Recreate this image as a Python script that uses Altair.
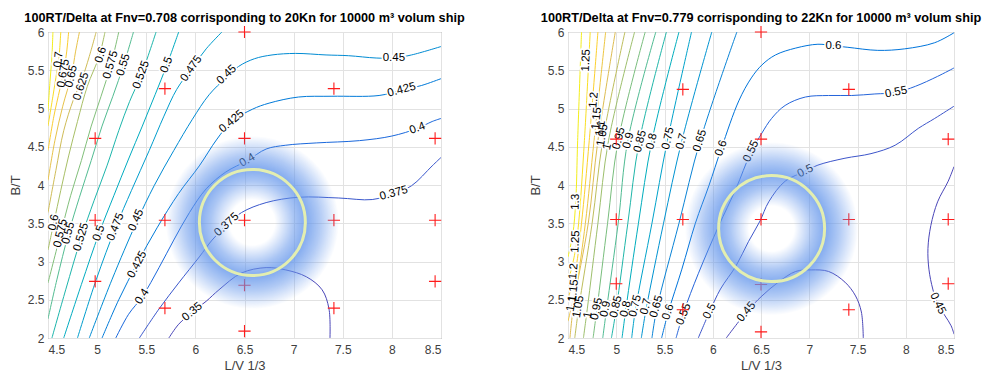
import altair as alt
import pandas as pd

FONT = "Liberation Sans"

TITLE_LEFT = "100RT/Delta at Fnv=0.708 corrisponding to 20Kn for 10000 m³ volum ship"
TITLE_RIGHT = "100RT/Delta at Fnv=0.779 corrisponding to 22Kn for 10000 m³ volum ship"
X_TITLE = "L/V 1/3"
Y_TITLE = "B/T"
X_TICKS = [4.5, 5, 5.5, 6, 6.5, 7, 7.5, 8, 8.5]
Y_TICKS = [2, 2.5, 3, 3.5, 4, 4.5, 5, 5.5, 6]

# design points (red +)
PTS_LEFT_X = [6.5, 5.69, 7.41, 4.98, 6.5, 8.44, 4.98, 5.69, 6.5, 7.41, 8.44, 4.98, 6.5, 8.44, 5.69, 7.41, 6.5]
PTS_LEFT_Y = [6.0, 5.26, 5.26, 4.61, 4.61, 4.61, 3.54, 3.54, 3.54, 3.54, 3.54, 2.74, 2.69, 2.74, 2.39, 2.39, 2.09]
PTS_RIGHT_X = [6.5, 5.69, 7.41, 5.0, 6.5, 8.44, 5.0, 5.69, 6.5, 7.41, 8.44, 5.0, 6.5, 8.44, 5.69, 7.41, 6.5]
PTS_RIGHT_Y = [6.0, 5.25, 5.25, 4.6, 4.6, 4.6, 3.55, 3.55, 3.55, 3.55, 3.55, 2.71, 2.70, 2.71, 2.37, 2.37, 2.08]

# optimum (circle centre)
OPT_LEFT = [6.58, 3.51]
OPT_RIGHT = [6.61, 3.43]

# ---------------- left panel contour lines (x, y) ----------------
L_0350 = [(5.73, 2.0), (5.83, 2.18), (5.97, 2.34), (6.11, 2.48), (6.24, 2.63), (6.47, 2.85), (6.72, 2.92),
          (6.92, 2.89), (7.13, 2.80), (7.29, 2.63), (7.36, 2.38), (7.37, 2.0)]
L_0375 = [(5.43, 2.0), (5.63, 2.38), (5.83, 2.72), (6.04, 3.06), (6.17, 3.28), (6.32, 3.48), (6.47, 3.64),
          (6.72, 3.77), (7.05, 3.84), (7.46, 3.83), (7.80, 3.81), (8.02, 3.89), (8.20, 3.99), (8.41, 4.25), (8.5, 4.36)]
L_0400 = [(5.19, 2.0), (5.32, 2.31), (5.46, 2.54), (5.63, 2.92), (5.78, 3.28), (5.94, 3.64), (6.11, 3.95),
          (6.31, 4.17), (6.53, 4.32), (6.72, 4.47), (6.92, 4.52), (7.23, 4.55), (7.67, 4.58), (8.0, 4.64),
          (8.26, 4.74), (8.41, 4.83), (8.5, 4.87)]
L_0425 = [(5.05, 2.0), (5.22, 2.50), (5.41, 2.98), (5.61, 3.44), (5.83, 3.89), (6.04, 4.25), (6.22, 4.60),
          (6.37, 4.83), (6.58, 4.99), (6.75, 5.07), (7.05, 5.15), (7.39, 5.16), (7.87, 5.17), (8.10, 5.24),
          (8.30, 5.30), (8.5, 5.39)]
L_0450 = [(4.92, 2.0), (5.15, 2.76), (5.40, 3.51), (5.58, 3.99), (5.78, 4.45), (5.97, 4.86), (6.14, 5.18),
          (6.31, 5.40), (6.44, 5.55), (6.60, 5.65), (6.78, 5.70), (7.02, 5.72), (7.33, 5.70), (7.56, 5.69),
          (7.84, 5.66), (8.02, 5.66), (8.20, 5.70), (8.5, 5.81)]
L_0475 = [(4.80, 2.0), (4.99, 2.76), (5.19, 3.45), (5.35, 3.93), (5.53, 4.45), (5.68, 4.90), (5.81, 5.25),
          (5.96, 5.52), (6.11, 5.78), (6.27, 6.0)]
L_0500 = [(4.66, 2.0), (4.84, 2.70), (5.02, 3.37), (5.17, 3.86), (5.32, 4.34), (5.46, 4.77), (5.59, 5.18),
          (5.71, 5.57), (5.83, 6.0)]
L_0525 = [(4.54, 2.0), (4.68, 2.63), (4.84, 3.32), (4.97, 3.80), (5.10, 4.25), (5.22, 4.71), (5.33, 5.09),
          (5.45, 5.44), (5.60, 6.0)]
L_0550 = [(4.5, 2.25), (4.59, 2.76), (4.71, 3.37), (4.82, 3.84), (4.94, 4.32), (5.05, 4.77), (5.16, 5.16),
          (5.27, 5.57), (5.37, 6.0)]
L_0575 = [(4.5, 2.72), (4.63, 3.37), (4.73, 3.86), (4.84, 4.32), (4.94, 4.77), (5.04, 5.16), (5.14, 5.57),
          (5.22, 6.0)]
L_0600 = [(4.5, 3.15), (4.56, 3.51), (4.63, 3.93), (4.71, 4.38), (4.80, 4.83), (4.90, 5.29), (5.02, 5.68),
          (5.08, 6.0)]
L_0625 = [(4.5, 3.64), (4.58, 4.19), (4.66, 4.71), (4.76, 5.12), (4.84, 5.36), (4.92, 5.68), (4.99, 6.0)]
L_0650 = [(4.5, 4.06), (4.57, 4.58), (4.65, 5.03), (4.74, 5.44), (4.78, 5.74), (4.82, 6.0)]
L_0675 = [(4.5, 4.45), (4.56, 4.90), (4.62, 5.25), (4.66, 5.48), (4.69, 5.74), (4.71, 6.0)]
L_0700 = [(4.5, 4.77), (4.55, 5.16), (4.59, 5.48), (4.61, 5.64), (4.63, 6.0)]
L_0725 = [(4.5, 4.96), (4.52, 5.35), (4.54, 5.68), (4.55, 6.0)]

LEFT_LINES = [(0.35, L_0350), (0.375, L_0375), (0.4, L_0400), (0.425, L_0425), (0.45, L_0450),
              (0.475, L_0475), (0.5, L_0500), (0.525, L_0525), (0.55, L_0550), (0.575, L_0575),
              (0.6, L_0600), (0.625, L_0625), (0.65, L_0650), (0.675, L_0675), (0.7, L_0700), (0.725, L_0725)]

# left contour labels
LAB_LEFT_T = ["0.7", "0.675", "0.65", "0.625", "0.6", "0.575", "0.55", "0.525", "0.5", "0.475", "0.45", "0.45",
              "0.425", "0.425", "0.4", "0.4", "0.375", "0.375", "0.35",
              "0.6", "0.575", "0.55", "0.525", "0.5", "0.475", "0.45", "0.425", "0.4"]
LAB_LEFT_X = [4.61, 4.66, 4.74, 4.84, 5.04, 5.14, 5.27, 5.45, 5.71, 5.96, 6.32, 8.02,
              6.37, 8.10, 6.53, 8.26, 6.32, 8.02, 5.97,
              4.56, 4.63, 4.71, 4.84, 5.02, 5.19, 5.40, 5.41, 5.46]
LAB_LEFT_Y = [5.64, 5.46, 5.42, 5.29, 5.70, 5.57, 5.57, 5.44, 5.57, 5.52, 5.44, 5.66,
              4.83, 5.24, 4.32, 4.74, 3.48, 3.89, 2.34,
              3.51, 3.37, 3.37, 3.32, 3.37, 3.45, 3.54, 2.96, 2.54]
LAB_LEFT_A = [276, 280, 283, 288, 286, 286, 287, 290, 291, 305, 317, 0,
              320, 345, 330, 340, 317, 345, 320,
              282, 283, 285, 287, 290, 292, 294, 298, 303]

# ---------------- right panel contour lines (x, y) ----------------
R_0450A = [(6.14, 2.0), (6.35, 2.34), (6.51, 2.55), (6.68, 2.73), (6.86, 2.87), (7.02, 2.89), (7.20, 2.87),
           (7.37, 2.73), (7.48, 2.55), (7.54, 2.34), (7.56, 2.0)]
R_0450B = [(8.5, 4.24), (8.44, 4.05), (8.33, 3.78), (8.26, 3.47), (8.23, 3.17), (8.24, 2.90), (8.28, 2.64),
           (8.33, 2.45), (8.47, 2.16), (8.5, 2.05)]
R_0500 = [(5.85, 2.0), (5.97, 2.35), (6.08, 2.64), (6.24, 2.94), (6.37, 3.26), (6.49, 3.53), (6.58, 3.78),
          (6.75, 4.05), (6.96, 4.18), (7.09, 4.26), (7.37, 4.35), (7.64, 4.41), (7.89, 4.52), (8.13, 4.74),
          (8.30, 4.87), (8.5, 5.03)]
R_0550 = [(5.62, 2.0), (5.70, 2.34), (5.85, 2.84), (6.06, 3.46), (6.24, 3.95), (6.39, 4.41), (6.51, 4.68),
          (6.61, 4.87), (6.75, 5.04), (6.96, 5.15), (7.20, 5.17), (7.44, 5.17), (7.68, 5.19), (7.90, 5.21),
          (8.10, 5.29), (8.33, 5.42), (8.5, 5.53)]
R_0600 = [(5.47, 2.0), (5.54, 2.34), (5.68, 2.90), (5.82, 3.50), (5.96, 3.99), (6.09, 4.48), (6.27, 5.10),
          (6.40, 5.40), (6.51, 5.57), (6.65, 5.70), (6.86, 5.79), (7.09, 5.84), (7.25, 5.82), (7.40, 5.80),
          (7.71, 5.76), (7.99, 5.78), (8.30, 5.86), (8.5, 5.99)]
R_0650 = [(5.37, 2.0), (5.42, 2.38), (5.65, 3.50), (5.87, 4.58), (6.25, 6.0)]
R_0700 = [(5.26, 2.0), (5.31, 2.38), (5.49, 3.50), (5.68, 4.58), (5.99, 6.0)]
R_0750 = [(5.16, 2.0), (5.20, 2.38), (5.37, 3.50), (5.53, 4.58), (5.78, 6.0)]
R_0800 = [(5.06, 2.0), (5.10, 2.38), (5.23, 3.50), (5.37, 4.58), (5.65, 6.0)]
R_0850 = [(4.95, 2.0), (5.0, 2.38), (5.12, 3.50), (5.24, 4.58), (5.52, 6.0)]
R_0900 = [(4.86, 2.0), (4.90, 2.38), (5.02, 3.50), (5.12, 4.58), (5.41, 6.0)]
R_0950 = [(4.76, 2.0), (4.80, 2.38), (4.91, 3.50), (5.02, 4.58), (5.30, 6.0)]
R_1000 = [(4.66, 2.0), (4.70, 2.38), (4.81, 3.50), (4.92, 4.58), (5.19, 6.0)]
R_1050 = [(4.57, 2.0), (4.61, 2.38), (4.75, 3.50), (4.86, 4.58), (5.09, 6.0)]
R_1100 = [(4.52, 2.0), (4.56, 2.45), (4.71, 3.50), (4.81, 4.58), (4.99, 6.0)]
R_1150 = [(4.5, 2.22), (4.59, 2.71), (4.68, 3.50), (4.77, 4.58), (4.89, 6.0)]
R_1200 = [(4.5, 2.51), (4.58, 2.90), (4.64, 3.50), (4.72, 4.58), (4.81, 6.0)]
R_1250 = [(4.5, 2.73), (4.57, 3.10), (4.61, 3.50), (4.67, 4.58), (4.73, 6.0)]
R_1300 = [(4.5, 3.06), (4.55, 3.36), (4.58, 3.78), (4.60, 4.58), (4.64, 6.0)]

RIGHT_LINES = [(0.45, R_0450A), (0.45, R_0450B), (0.5, R_0500), (0.55, R_0550), (0.6, R_0600),
               (0.65, R_0650), (0.7, R_0700), (0.75, R_0750), (0.8, R_0800), (0.85, R_0850), (0.9, R_0900),
               (0.95, R_0950), (1.0, R_1000), (1.05, R_1050), (1.1, R_1100), (1.15, R_1150), (1.2, R_1200),
               (1.25, R_1250), (1.3, R_1300)]

LAB_RIGHT_T = ["1.25", "1.2", "1.15", "1.1", "1.05", "1", "0.95", "0.9", "0.85", "0.8", "0.75", "0.7", "0.65",
               "0.6", "0.55", "0.6", "0.55", "0.5", "0.45", "0.45",
               "1.3", "1.25", "1.2", "1.15", "1.1", "1.05", "1", "0.95", "0.9", "0.85", "0.8", "0.75", "0.7",
               "0.65", "0.6", "0.55", "0.5"]
LAB_RIGHT_X = [4.69, 4.77, 4.80, 4.84, 4.86, 4.91, 5.03, 5.13, 5.25, 5.37, 5.54, 5.68, 5.87,
               6.09, 6.40, 7.25, 7.90, 6.96, 8.33, 6.35,
               4.58, 4.58, 4.56, 4.56, 4.54, 4.61, 4.71, 4.80, 4.89, 5.0, 5.10, 5.20, 5.31,
               5.42, 5.54, 5.70, 5.97]
LAB_RIGHT_Y = [5.63, 5.11, 4.87, 4.74, 4.65, 4.50, 4.61, 4.58, 4.57, 4.57, 4.61, 4.57, 4.58,
               4.48, 4.44, 5.82, 5.21, 4.18, 2.45, 2.34,
               3.78, 3.26, 2.87, 2.62, 2.45, 2.41, 2.30, 2.38, 2.38, 2.41, 2.38, 2.42, 2.41,
               2.41, 2.34, 2.31, 2.35]
LAB_RIGHT_A = [273, 275, 276, 279, 280, 283, 284, 285, 285, 284, 283, 285, 287,
               290, 295, 0, 349, 334, 64, 310,
               272, 273, 275, 277, 279, 280, 281, 282, 282, 283, 283, 284, 285,
               286, 288, 292, 297]

PARULA = ["#4a46b8", "#1f66dc", "#1486d4", "#0aa7c6", "#38b99e", "#92bf73", "#d9ba56", "#fcce2e", "#f3ee1a"]
PLUS = "M-1,0L1,0M0,-1L0,1"

GLOW = alt.RadialGradient(
    gradient="radial",
    stops=[
        alt.GradientStop(color="rgba(100,150,235,0)", offset=0),
        alt.GradientStop(color="rgba(100,150,235,0)", offset=0.26),
        alt.GradientStop(color="rgba(100,150,235,0.55)", offset=0.48),
        alt.GradientStop(color="rgba(100,150,235,0.8)", offset=0.62),
        alt.GradientStop(color="rgba(100,150,235,0.5)", offset=0.78),
        alt.GradientStop(color="rgba(100,150,235,0)", offset=1),
    ],
    x1=0.5, y1=0.5, r1=0, x2=0.5, y2=0.5, r2=0.5,
)


def panel(lines, lab_t, lab_x, lab_y, lab_a, pts_x, pts_y, opt, title, w, h):
    rows = []
    for k, (lev, pts) in enumerate(lines):
        for i, (x, y) in enumerate(pts):
            rows.append({"x": x, "y": y, "level": lev, "seg": k, "i": i})
    df = pd.DataFrame(rows)
    labs = pd.DataFrame({"x": lab_x, "y": lab_y, "t": lab_t, "a": lab_a})
    pts = pd.DataFrame({"x": pts_x, "y": pts_y})
    ctr = pd.DataFrame({"x": [opt[0]], "y": [opt[1]]})

    levels = [lev for lev, _ in lines]
    lo, hi = min(levels), max(levels)
    cdom = [lo + k * (hi - lo) / 8 for k in range(9)]

    X = alt.X("x:Q", scale=alt.Scale(domain=[4.5, 8.5], nice=False, zero=False),
              axis=alt.Axis(values=X_TICKS, format="~g", title=X_TITLE, grid=True,
                            labelPadding=6, titlePadding=4))
    Y = alt.Y("y:Q", scale=alt.Scale(domain=[2, 6], nice=False, zero=False),
              axis=alt.Axis(values=Y_TICKS, format="~g", title=Y_TITLE, grid=True,
                            labelPadding=4, titlePadding=5))

    line_layer = alt.Chart(df).mark_line(strokeWidth=1, interpolate="catmull-rom", clip=True).encode(
        x=X, y=Y,
        color=alt.Color("level:Q", scale=alt.Scale(domain=cdom, range=PARULA), legend=None),
        detail="seg:N", order="i:Q")
    halo = alt.Chart(labs).mark_text(font=FONT, fontSize=11.5, stroke="white", strokeWidth=3.5,
                                     strokeJoin="round", color="white").encode(
        x=X, y=Y, text="t:N", angle=alt.Angle("a:Q", scale=None))
    txt = alt.Chart(labs).mark_text(font=FONT, fontSize=11.5, color="black").encode(
        x=X, y=Y, text="t:N", angle=alt.Angle("a:Q", scale=None))
    plus = alt.Chart(pts).mark_point(shape=PLUS, size=150, color="#ff1a1a", strokeWidth=1.1,
                                     filled=False, opacity=1).encode(x=X, y=Y)
    glow = alt.Chart(ctr).mark_point(shape="circle", size=30000, filled=True, fill=GLOW,
                                     strokeWidth=0, opacity=1).encode(x=X, y=Y)
    ring = alt.Chart(ctr).mark_point(shape="circle", size=11236, filled=False, stroke="#e3eeb0",
                                     strokeWidth=3, opacity=1).encode(x=X, y=Y)
    return alt.layer(line_layer, halo, txt, plus, glow, ring).properties(
        width=w, height=h,
        title=alt.TitleParams(text=title, font=FONT, fontSize=12.7, fontWeight="bold", color="black",
                              offset=-1, anchor="middle"))


left = panel(LEFT_LINES, LAB_LEFT_T, LAB_LEFT_X, LAB_LEFT_Y, LAB_LEFT_A, PTS_LEFT_X, PTS_LEFT_Y,
             OPT_LEFT, TITLE_LEFT, 393, 306)
right = panel(RIGHT_LINES, LAB_RIGHT_T, LAB_RIGHT_X, LAB_RIGHT_Y, LAB_RIGHT_A, PTS_RIGHT_X, PTS_RIGHT_Y,
              OPT_RIGHT, TITLE_RIGHT, 386, 306)

chart = alt.hconcat(left, right, spacing=62).resolve_scale(color="independent").properties(
    padding={"left": 0, "top": 3, "right": 0, "bottom": 0}
).configure_view(
    stroke="#7a7a7a", strokeWidth=1
).configure_axis(
    labelFont=FONT, titleFont=FONT, labelFontSize=12, titleFontSize=13, labelColor="#404040",
    titleColor="#404040", titleFontWeight="normal", gridColor="#e2e2e2", gridWidth=1, domain=False,
    ticks=False
)

chart.save("out.html", embed_options={"renderer": "svg", "actions": False})
